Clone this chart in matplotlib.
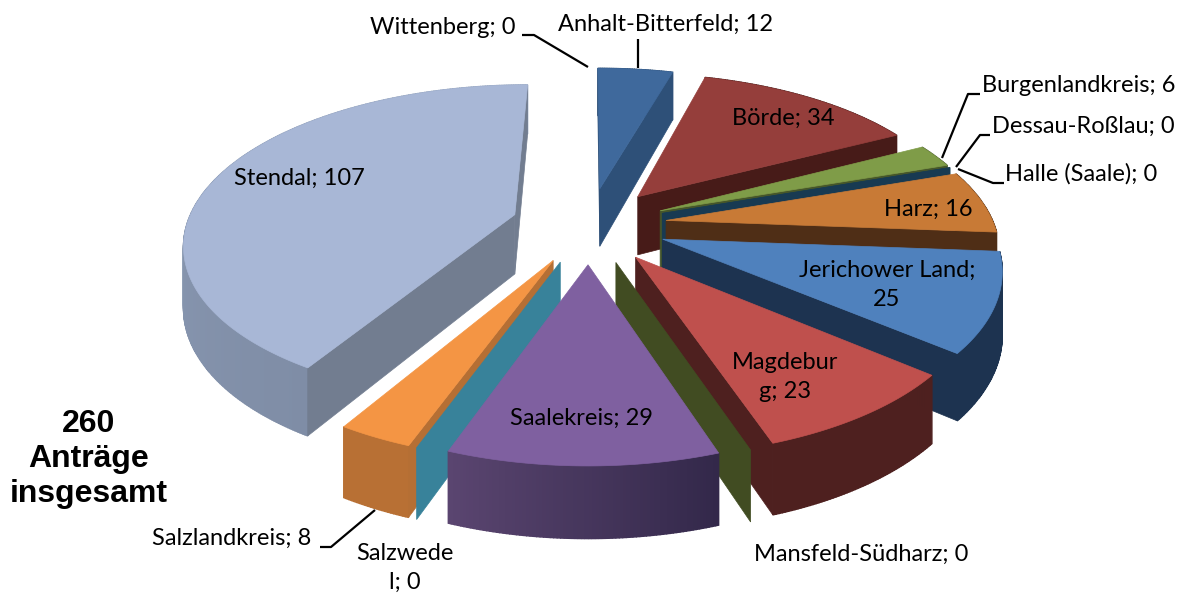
import numpy as np
import matplotlib
matplotlib.use("Agg")
import matplotlib.pyplot as plt
from matplotlib.colors import to_rgb

# data, clockwise from 12 o'clock
districts = ["Wittenberg", "Anhalt-Bitterfeld", "Börde", "Burgenlandkreis", "Dessau-Roßlau",
             "Halle (Saale)", "Harz", "Jerichower Land", "Magdeburg", "Mansfeld-Südharz",
             "Saalekreis", "Salzwedel", "Salzlandkreis", "Stendal"]
applications = [0, 12, 34, 6, 0, 0, 16, 25, 23, 0, 29, 0, 8, 107]

# top, cut face, wall at slice start, wall at slice end
colors = {
    "Wittenberg": ("#ffffff", "#ffffff", "#ffffff", "#ffffff"),
    "Anhalt-Bitterfeld": ("#3f699c", "#2e5078", "#2e5078", "#2e5078"),
    "Börde": ("#953e3b", "#471b18", "#471b18", "#471b18"),
    "Burgenlandkreis": ("#7f9c48", "#46562a", "#46562a", "#46562a"),
    "Dessau-Roßlau": ("#1b4650", "#1b4650", "#1b4650", "#1b4650"),
    "Halle (Saale)": ("#183a52", "#183a52", "#183a52", "#183a52"),
    "Harz": ("#c87a36", "#4f2e16", "#4f2e16", "#4f2e16"),
    "Jerichower Land": ("#4f81bd", "#1d3350", "#1d3350", "#1d3350"),
    "Magdeburg": ("#bf504d", "#4e201f", "#4e201f", "#4e201f"),
    "Mansfeld-Südharz": ("#414c22", "#414c22", "#414c22", "#414c22"),
    "Saalekreis": ("#7f60a0", "#54406a", "#33284a", "#5a4570"),
    "Salzwedel": ("#38829a", "#38829a", "#38829a", "#38829a"),
    "Salzlandkreis": ("#f49544", "#b56f34", "#b87034", "#b87034"),
    "Stendal": ("#a8b7d6", "#727d90", "#7f8da6", "#96a6c0"),
}

# pseudo 3d projection, all in output pixels
CX, CY = 589, 225
RADIUS = 328
EXPLODE = 78
SQUASH = 0.49
PERSPECTIVE = 0.00052
HEIGHT = 60


def project(x, y, z=0.0):
    p = 1.0 - PERSPECTIVE * y
    return CX + p * x, CY - p * (y * SQUASH + z)


def slice_points(start, end, n):
    mid = np.radians((start + end) / 2)
    ox, oy = EXPLODE * np.sin(mid), EXPLODE * np.cos(mid)
    angles = np.radians(np.linspace(start, end, n))
    return ox, oy, ox + RADIUS * np.sin(angles), oy + RADIUS * np.cos(angles)


def cut_face_visible(apex, outer, inside):
    ex, ey = outer[0] - apex[0], outer[1] - apex[1]
    ix, iy = inside[0] - apex[0], inside[1] - apex[1]
    # extruding down (+y on screen) has to leave the top surface
    return (ex * iy - ey * ix) * ex < 0


def draw_slice(ax, name, start, end):
    top, cut, wall_a, wall_b = colors[name]
    n = max(2, int(end - start) * 2 + 2)
    ox, oy, xs, ys = slice_points(start, end, n)

    apex_top = project(ox, oy)
    apex_low = project(ox, oy, -HEIGHT)
    rim_top = [project(x, y) for x, y in zip(xs, ys)]
    rim_low = [project(x, y, -HEIGHT) for x, y in zip(xs, ys)]

    # outer wall with a bit of shading, far segments first
    if end > start:
        a, b = np.array(to_rgb(wall_a)), np.array(to_rgb(wall_b))
        for i in sorted(range(n - 1), key=lambda k: -ys[k]):
            shade = a + (b - a) * i / (n - 2)
            ax.fill(*zip(rim_top[i], rim_top[i + 1], rim_low[i + 1], rim_low[i]),
                    color=shade, lw=1, zorder=2)

    # cut faces
    if end == start:
        faces = [0]
    else:
        inside = rim_top[n // 2]
        faces = [i for i in (0, -1) if cut_face_visible(apex_top, rim_top[i], inside)]
    for i in faces:
        ax.fill(*zip(apex_top, rim_top[i], rim_low[i], apex_low), color=cut, lw=0.5, zorder=2)

    if end > start:
        ax.fill(*zip(apex_top, *rim_top), color=top, lw=0.5, zorder=2)


fig = plt.figure(figsize=(11.91, 5.94), dpi=100)
ax = fig.add_axes([0, 0, 1, 1])
ax.set_xlim(0, 1191)
ax.set_ylim(594, 0)
ax.axis("off")

stops = np.concatenate([[0], np.cumsum(applications)]) * 360.0 / sum(applications)
spans = list(zip(districts, stops[:-1], stops[1:]))
for name, start, end in sorted(spans, key=lambda s: -np.cos(np.radians((s[1] + s[2]) / 2))):
    draw_slice(ax, name, start, end)

# labels
FONT = "Lato"
SIZE = 17
labels = [
    ("Wittenberg; 0", 443, 27), ("Anhalt-Bitterfeld; 12", 665, 24), ("Börde; 34", 783, 118),
    ("Burgenlandkreis; 6", 1079, 86), ("Dessau-Roßlau; 0", 1083, 126), ("Halle (Saale); 0", 1081, 174),
    ("Harz; 16", 928, 209), ("Jerichower Land;\n25", 887, 285), ("Magdebur\ng; 23", 785, 377),
    ("Mansfeld-Südharz; 0", 861, 554), ("Saalekreis; 29", 581, 418), ("Salzwede\nl; 0", 405, 568),
    ("Salzlandkreis; 8", 232, 538), ("Stendal; 107", 299, 178),
]
for text, x, y in labels:
    ax.text(x, y, text, family=FONT, fontsize=SIZE, color="black", ha="center", va="center",
            linespacing=1.5, zorder=5)

leaders = [
    ([522, 534, 588], [35, 35, 67]),
    ([638, 638], [39, 68]),
    ([980, 968, 942], [94, 94, 158]),
    ([990, 980, 956], [135, 135, 167]),
    ([1004, 993, 958], [183, 183, 169]),
    ([320, 331, 375], [547, 547, 510]),
]
for xs, ys in leaders:
    ax.plot(xs, ys, color="black", lw=1.6, zorder=6, solid_capstyle="butt")

ax.text(89, 459, "260\nAnträge\ninsgesamt", family="Liberation Sans", fontweight="bold", fontsize=23,
        ha="center", va="center", linespacing=1.2, color="black", zorder=5)

fig.savefig("out.png", dpi=100, facecolor="white")
